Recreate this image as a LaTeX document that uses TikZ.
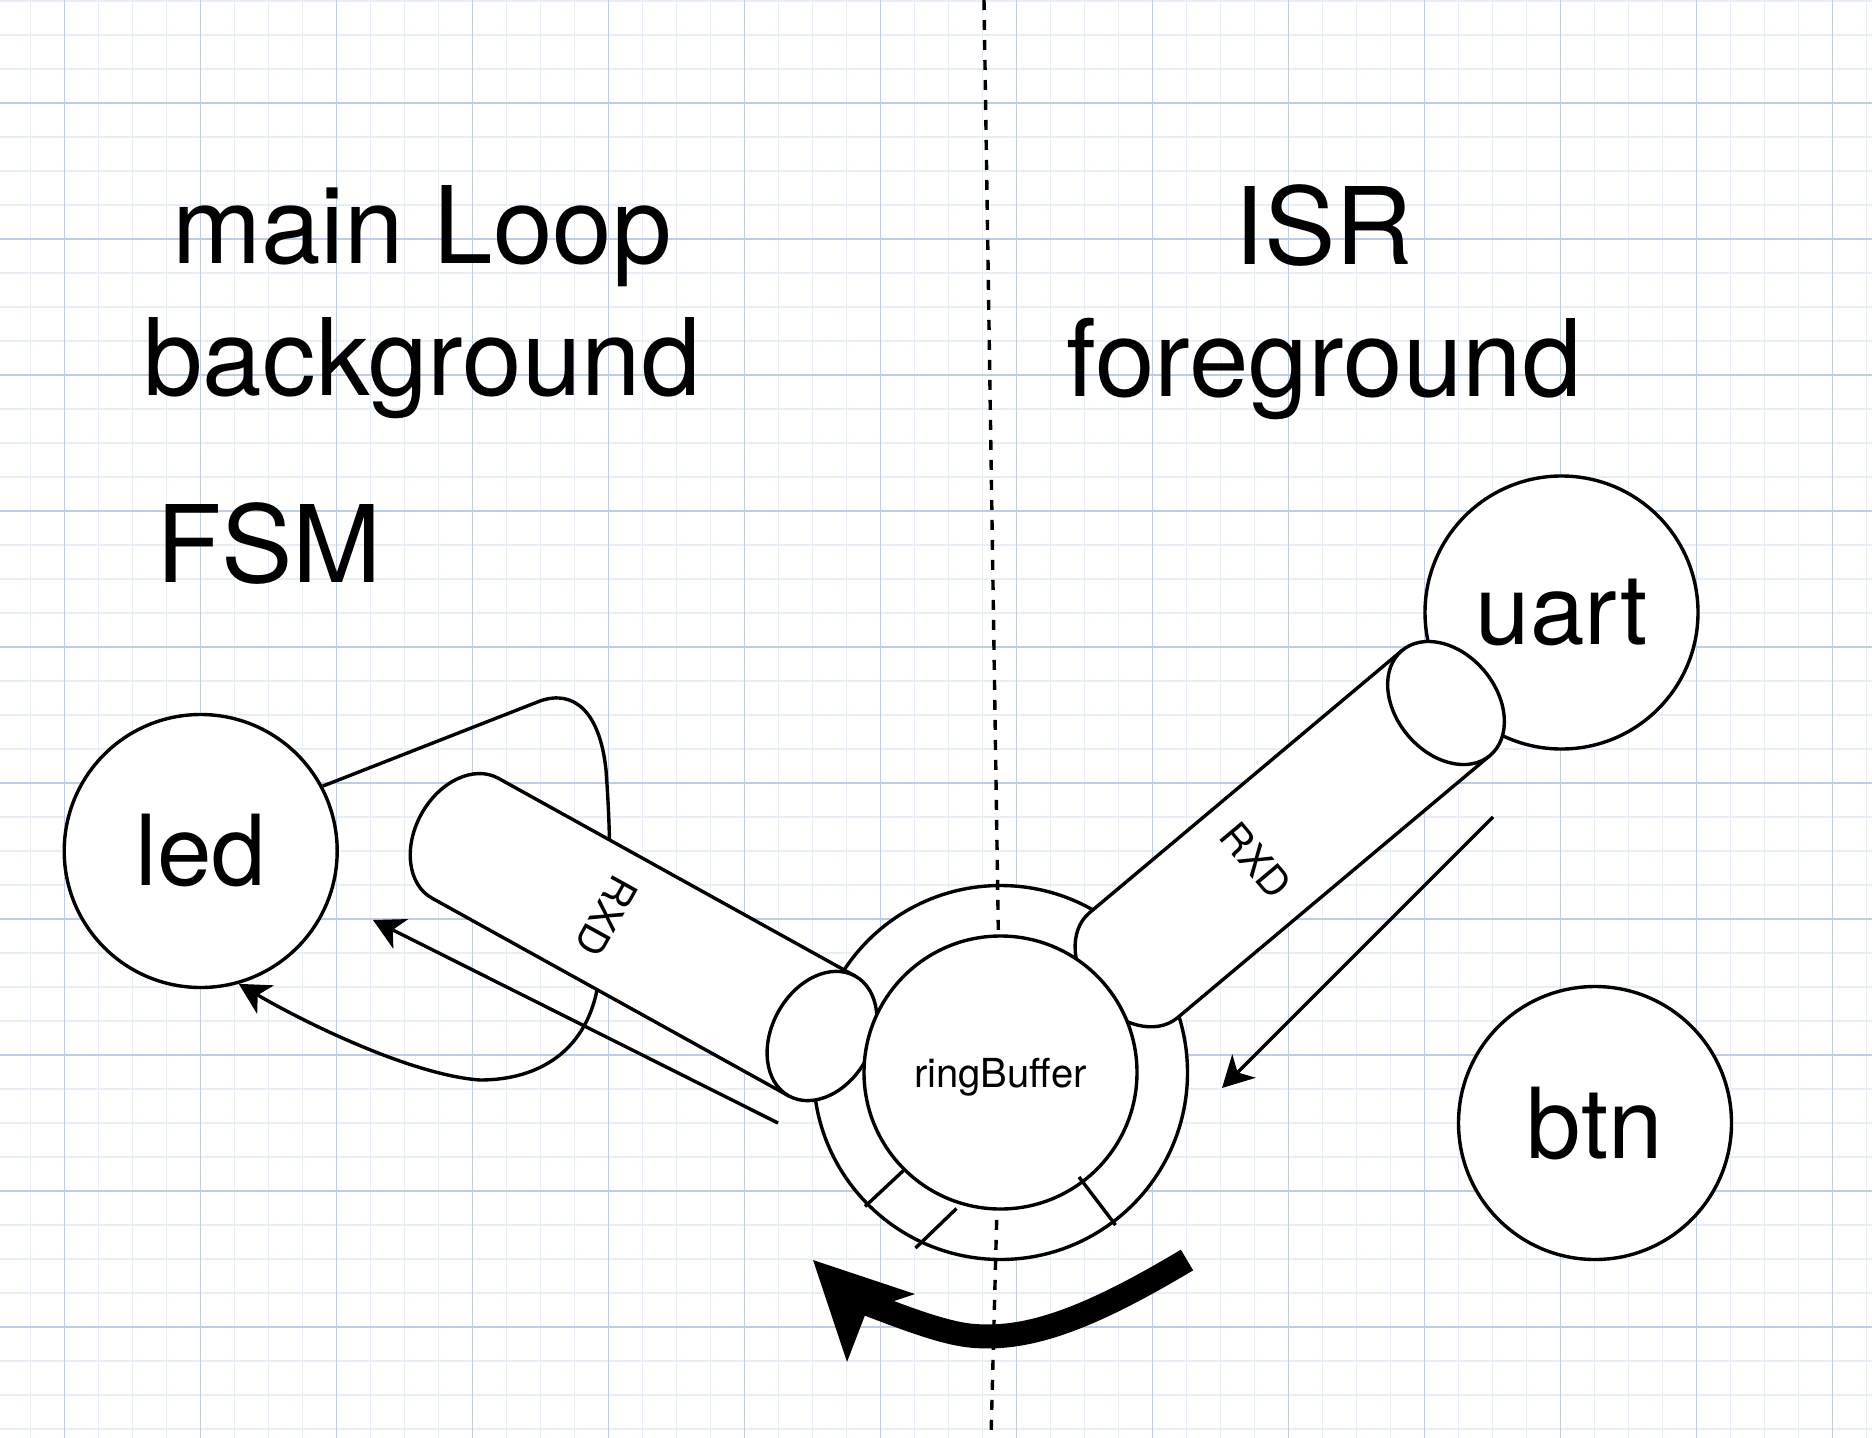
\documentclass[tikz,border=0pt]{standalone}
\usepackage{fontspec}
\setmainfont{TeX Gyre Heros}
\usetikzlibrary{arrows.meta}
\definecolor{gridminor}{RGB}{231,238,247}
\definecolor{gridmajor}{RGB}{188,206,229}
\tikzset{
  cylpic/.pic={
    \filldraw[fill=white] (0pt,68.5pt) -- (408pt,68.5pt)
      arc[start angle=90,end angle=-90,x radius=50pt,y radius=68.5pt] -- (0pt,-68.5pt);
    \filldraw[fill=white] (0pt,0pt) ellipse[x radius=50pt,y radius=68.5pt];
  }
}
\begin{document}
\begin{tikzpicture}[x=1pt,y=-1pt,line width=3.4pt,
  big/.style={font=\fontsize{107}{132}\selectfont, align=center, inner sep=0pt},
  circ/.style={circle, draw, fill=white, minimum size=273pt, inner sep=0pt, font=\fontsize{98}{98}\selectfont},
  rxd/.style={font=\fontsize{40}{40}\selectfont, inner sep=0pt},
  conn/.style={-{Stealth[length=31pt,width=33pt,inset=9pt]}},
  dash line/.style={dash pattern=on 10pt off 10pt}
]
\fill[white] (0,0) rectangle (1872,1438);
\useasboundingbox (0,0) rectangle (1872,1438);
% grid
\foreach \i in {0,...,54} \draw[gridminor, line width=1.6pt] ({30.5+34*\i},0) -- ++(0,1438);
\foreach \i in {0,...,42} \draw[gridminor, line width=1.6pt] (0,{1+34*\i}) -- ++(1872,0);
\foreach \i in {0,...,13} \draw[gridmajor, line width=1.2pt] ({64.5+136*\i},0) -- ++(0,1438);
\foreach \i in {0,...,9} \draw[gridmajor, line width=1.2pt] (0,{103+136*\i}) -- ++(1872,0);

% outer ring of the ring buffer
\node[circle, draw, fill=white, minimum size=374pt, inner sep=0pt] (rbouter) at (1000.5,1072.5) {};
% dashed separator
\coordinate (dtop) at (984,0);
\coordinate (dbot) at (991,1438);
\draw[dash line] (dtop) -- (rbouter.center) -- (dbot);

% state circles
\node[circ] (uart) at (1561.5,612.5) {uart};
\node[circ] (led) at (200.7,851) {led};
\node[circ] (btn) at (1595,1123) {btn};

% loop connector of led (partly behind the cylinder)
\draw[conn] (led.28) -- (540,701) .. controls (574,689) and (600,712) .. (606,770)
  .. controls (612,850) and (612,940) .. (597,990)
  .. controls (585,1050) and (540,1080) .. (480,1080)
  .. controls (410,1075) and (300,1020) .. (led.-74);

% cylinders
\pic[rotate=151] at (822,1036) {cylpic};
\pic[rotate=220] at (1446,703) {cylpic};
\node[rxd, rotate=241] (rxdL) at (607,916) {RXD};
\node[rxd, rotate=-50] (rxdR) at (1256,860) {RXD};

% inner ring
\node[circle, draw, fill=white, minimum size=273pt, inner sep=0pt] (rb) at (1000.5,1072.5) {};
\node[font=\fontsize{40}{40}\selectfont, inner sep=0pt, anchor=base] (rblabel) at (1000.5,1087) {ringBuffer};
% slot marks
\draw (865,1206.5) -- (903.4,1170.6);
\draw (915.5,1248) -- (956.5,1208.5);
\draw (1079,1177) -- (1115.5,1225);

% straight arrows
\coordinate (a1s) at (778,1123);
\coordinate (a1e) at (373,920);
\draw[conn] (a1s) -- (a1e);
\coordinate (a2s) at (1493,817);
\coordinate (a2e) at (1222,1088);
\draw[conn] (a2s) -- (a2e);

% big curved arrow
\coordinate (bA) at (1187,1260);
\coordinate (bB) at (860,1301);
\draw[line width=24pt] (bA) .. controls (1090,1318) and (1030,1340) .. (975,1336)
  .. controls (945,1334) and (905,1318) .. (bB);
\fill (813,1260) -- (915,1294) -- (867,1310) -- (847,1362) -- cycle;

% titles
\node[big] (mainloop) at (422,301.75) {main Loop\\background};
\node[big] (isr) at (1324,301.75) {ISR\\foreground};
\node[big, anchor=base] (fsm) at (269,582) {FSM};
\end{tikzpicture}
\end{document}
